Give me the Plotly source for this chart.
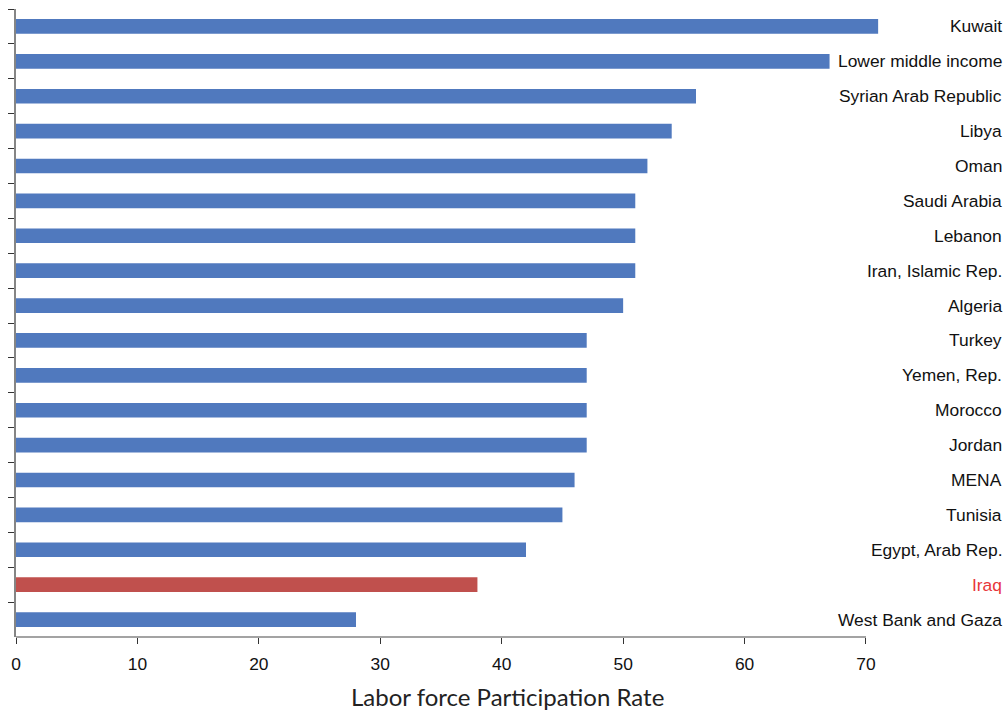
import plotly.graph_objects as go

# Labor force participation rate by country / group (top to bottom)
countries = [
    "Kuwait", "Lower middle income", "Syrian Arab Republic", "Libya", "Oman",
    "Saudi Arabia", "Lebanon", "Iran, Islamic Rep.", "Algeria", "Turkey",
    "Yemen, Rep.", "Morocco", "Jordan", "MENA", "Tunisia",
    "Egypt, Arab Rep.", "Iraq", "West Bank and Gaza",
]
rates = [71, 67, 56, 54, 52, 51, 51, 51, 50, 47, 47, 47, 47, 46, 45, 42, 38, 28]
highlight = "Iraq"
x_ticks = [0, 10, 20, 30, 40, 50, 60, 70]

BLUE = "#5079be"
RED = "#c0504d"
LABEL_RED = "#e8363b"
AXIS_GREY = "#858585"
FONT = "Liberation Sans, Arial, sans-serif"

bar_colors = [RED if c == highlight else BLUE for c in countries]

fig = go.Figure(
    go.Bar(
        x=rates,
        y=countries,
        orientation="h",
        width=0.42,
        marker=dict(color=bar_colors, line=dict(width=0)),
        hoverinfo="x+y",
    )
)

# Category names drawn at the right-hand side of each row
for c in countries:
    fig.add_annotation(
        x=0.9975, xref="paper", y=c, yref="y",
        text=c, showarrow=False, xanchor="right", yanchor="middle",
        font=dict(family=FONT, size=17.4, color=LABEL_RED if c == highlight else "#111111"),
    )

# Axis title centred under the figure
fig.add_annotation(
    x=0.496, xref="paper", y=-0.0955, yref="paper",
    text="Labor force Participation Rate", showarrow=False,
    xanchor="center", yanchor="middle",
    font=dict(family="Lato, Open Sans, sans-serif", size=24, color="#222222"),
)

# Horizontal axis line stops at the last tick
fig.add_shape(
    type="line", xref="x", yref="paper",
    x0=0, x1=x_ticks[-1], y0=0, y1=0,
    line=dict(color=AXIS_GREY, width=1.5),
)

fig.update_layout(
    width=1006, height=713,
    margin=dict(l=16, r=0, t=9, b=76),
    paper_bgcolor="white", plot_bgcolor="white",
    showlegend=False,
    xaxis=dict(
        range=[0, 81.53],
        tickvals=x_ticks,
        ticks="outside", ticklen=6, tickcolor="#333333", tickwidth=1,
        ticklabelstandoff=5,
        showgrid=False, zeroline=False, showline=False,
        tickfont=dict(family=FONT, size=17.4, color="#111111"),
    ),
    yaxis=dict(
        type="category",
        categoryorder="array", categoryarray=countries,
        autorange="reversed",
        showticklabels=False,
        ticks="outside", tickson="boundaries", ticklen=6,
        tickcolor="#333333", tickwidth=1,
        showline=True, linecolor=AXIS_GREY, linewidth=1.5,
        showgrid=False, zeroline=False,
    ),
)

fig.write_html("out.html")
